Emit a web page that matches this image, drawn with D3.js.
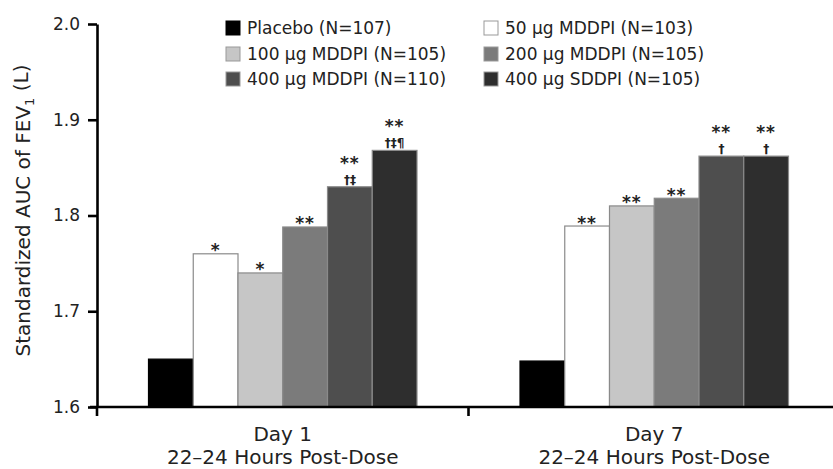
<!DOCTYPE html>
<html>
<head>
<meta charset="utf-8">
<script src="https://cdn.jsdelivr.net/npm/d3@7"></script>
<style>
  body { margin: 0; background: #fff; }
  text { font-family: "DejaVu Sans", sans-serif; fill: #222; }
</style>
</head>
<body>
<div id="chart"></div>
<script>
// Data
const groups = ["Day 1", "Day 7"];
const groupSub = "22\u201324 Hours Post-Dose";
const seriesNames = [
  "Placebo (N=107)",
  "50 \u00b5g MDDPI (N=103)",
  "100 \u00b5g MDDPI (N=105)",
  "200 \u00b5g MDDPI (N=105)",
  "400 \u00b5g MDDPI (N=110)",
  "400 \u00b5g SDDPI (N=105)",
];
const seriesColors = ["#000000", "#ffffff", "#c6c6c6", "#7b7b7b", "#4e4e4e", "#2e2e2e"];
const day1Values = [1.65, 1.76, 1.74, 1.788, 1.83, 1.868];
const day7Values = [1.648, 1.789, 1.81, 1.818, 1.862, 1.862];
const day1Stars = ["", "*", "*", "**", "**", "**"];
const day1Marks = ["", "", "", "", "\u2020\u2021", "\u2020\u2021\u00b6"];
const day7Stars = ["", "**", "**", "**", "**", "**"];
const day7Marks = ["", "", "", "", "\u2020", "\u2020"];
const yTicks = [1.6, 1.7, 1.8, 1.9, 2.0];

const width = 833;
const height = 469;

const svg = d3.select("#chart")
  .append("svg")
  .attr("width", width)
  .attr("height", height);

const rows = [
  { values: day1Values, stars: day1Stars, marks: day1Marks },
  { values: day7Values, stars: day7Stars, marks: day7Marks },
];

// Scales
const x0 = d3.scaleBand().domain(groups).range([97, 840]).padding(0);
const x1 = d3.scaleBand()
  .domain(d3.range(seriesNames.length))
  .range([51.5, x0.bandwidth() - 51.5])
  .padding(0);
const y = d3.scaleLinear().domain([1.6, 2.0]).range([407, 24]);

// Bars
groups.forEach((g, gi) => {
  const grp = svg.append("g").attr("transform", `translate(${x0(g)},0)`);
  const row = rows[gi];

  grp.selectAll("rect")
    .data(row.values)
    .enter()
    .append("rect")
    .attr("x", (d, i) => x1(i))
    .attr("y", (d) => y(d))
    .attr("width", x1.bandwidth())
    .attr("height", (d) => y(1.6) - y(d))
    .style("fill", (d, i) => seriesColors[i])
    .style("stroke", (d, i) => (i === 0 ? "#000" : "#8a8a8a"))
    .style("stroke-width", "1.2px");

  // Significance marks: daggers right above the bar, stars above those
  row.values.forEach((v, i) => {
    const cx = x1(i) + x1.bandwidth() / 2;
    const hasMark = row.marks[i] !== "";
    if (hasMark) {
      grp.append("text")
        .attr("x", cx)
        .attr("y", y(v) - 3)
        .attr("text-anchor", "middle")
        .style("font-size", "12px")
        .style("font-weight", "bold")
        .text(row.marks[i]);
    }
    if (row.stars[i]) {
      grp.append("text")
        .attr("x", cx)
        .attr("y", y(v) + (hasMark ? -18 : 2.5))
        .attr("text-anchor", "middle")
        .style("font-size", "17px")
        .style("font-weight", "bold")
        .style("letter-spacing", "1px")
        .text(row.stars[i]);
    }
  });
});

// Y axis
const yAxis = d3.axisLeft(y)
  .tickValues(yTicks)
  .tickFormat(d3.format(".1f"))
  .tickSize(9)
  .tickSizeOuter(0)
  .tickPadding(8);

const yg = svg.append("g").attr("transform", "translate(97,0)").call(yAxis);
yg.select(".domain").style("stroke", "#000").style("stroke-width", "2.6px");
yg.selectAll(".tick line").style("stroke", "#000").style("stroke-width", "2.6px");
yg.selectAll(".tick text")
  .style("font-size", "17px")
  .style("font-family", "'DejaVu Sans', sans-serif")
  .style("fill", "#222");

// X axis line + group divider
svg.append("line")
  .attr("x1", 90).attr("x2", width)
  .attr("y1", y(1.6)).attr("y2", y(1.6))
  .style("stroke", "#000").style("stroke-width", "2.6px");

[x0.range()[0], x0(groups[1])].forEach((xv) => {
  svg.append("line")
    .attr("x1", xv).attr("x2", xv)
    .attr("y1", y(1.6)).attr("y2", y(1.6) + 9)
    .style("stroke", "#000").style("stroke-width", "2.6px");
});

// Group labels
groups.forEach((g) => {
  const cx = x0(g) + x0.bandwidth() / 2;
  svg.append("text")
    .attr("x", cx).attr("y", 441)
    .attr("text-anchor", "middle")
    .style("font-size", "20px")
    .text(g);
  svg.append("text")
    .attr("x", cx).attr("y", 464)
    .attr("text-anchor", "middle")
    .style("font-size", "20px")
    .text(groupSub);
});

// Y title
const yTitle = svg.append("text")
  .attr("transform", `translate(30,${(63 + 358) / 2}) rotate(-90)`)
  .attr("text-anchor", "middle")
  .style("font-size", "20px");
yTitle.append("tspan").text("Standardized AUC of FEV");
yTitle.append("tspan").attr("dy", "0.3em").style("font-size", "13px").text("1");
yTitle.append("tspan").attr("dy", "-0.3em").text(" (L)");

// Legend (two columns, three rows)
const legendCols = [226, 484];
const legendRows = [28, 54, 79];
seriesNames.forEach((name, i) => {
  const lx = legendCols[i % 2];
  const ly = legendRows[Math.floor(i / 2)];
  svg.append("rect")
    .attr("x", lx).attr("y", ly - 7)
    .attr("width", 14).attr("height", 14)
    .style("fill", seriesColors[i])
    .style("stroke", i === 0 ? "#000" : "#999")
    .style("stroke-width", "1px");
  svg.append("text")
    .attr("x", lx + 21).attr("y", ly)
    .attr("dy", "0.36em")
    .style("font-size", "17px")
    .text(name);
});
</script>
</body>
</html>
